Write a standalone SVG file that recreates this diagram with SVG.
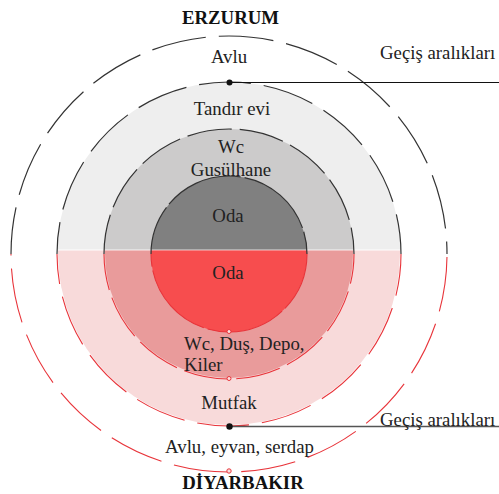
<svg xmlns="http://www.w3.org/2000/svg" width="499" height="494" viewBox="0 0 499 494">
<defs>
<clipPath id="ct"><rect x="0" y="0" width="499" height="249.5"/></clipPath>
<clipPath id="cb"><rect x="0" y="250.5" width="499" height="244"/></clipPath>
<style>
.t{font-family:"Liberation Serif","Times New Roman",serif;font-size:18.8px;fill:#222}
.b{font-weight:bold;fill:#111}
.m{text-anchor:middle}
.sg{fill:none;stroke:#333;stroke-width:1.2}
.sr{fill:none;stroke:#e8343a;stroke-width:1.1}
</style>
</defs>
<rect width="499" height="494" fill="#fff"/>
<g id="fills-top" clip-path="url(#ct)">
<circle cx="229" cy="254" r="172" fill="#eeeeee"/>
<circle cx="229" cy="254" r="125" fill="#cccbcb"/>
<circle cx="229" cy="254" r="78" fill="#808080"/>
</g>
<g id="fills-bottom" clip-path="url(#cb)">
<circle cx="229" cy="254" r="171" fill="#f8dada"/>
<circle cx="229" cy="254" r="124" fill="#e99b9b"/>
<circle cx="229" cy="254" r="78" fill="#f74d4e"/>
</g>
<g id="connectors">
<path class="sg" d="M11,254 A218,218 0 0 1 447,254" stroke-dasharray="55 13" stroke-dashoffset="8"/>
<path class="sg" d="M57,254 A172,172 0 0 1 401,254" stroke-dasharray="52 13" stroke-dashoffset="20"/>
<path class="sg" d="M104,254 A125,125 0 0 1 354,254" stroke-dasharray="45 8" stroke-dashoffset="5"/>
<path class="sg" d="M151,254 A78,78 0 0 1 307,254" stroke-dasharray="80 4" stroke-dashoffset="30"/>
<path class="sr" d="M447,254 A218,218 0 0 1 11,254" stroke-dasharray="55 13" stroke-dashoffset="-3"/>
<path class="sr" d="M401,254 A172,172 0 0 1 57,254" stroke-dasharray="52 13" stroke-dashoffset="10"/>
<path class="sr" d="M354,254 A125,125 0 0 1 104,254" stroke-dasharray="45 8" stroke-dashoffset="15"/>
<path class="sr" d="M307,254 A78,78 0 0 1 151,254" stroke-dasharray="80 4" stroke-dashoffset="20"/>
<line x1="229" y1="82.5" x2="499" y2="82.5" stroke="#111" stroke-width="1.2"/>
<line x1="229" y1="426.5" x2="499" y2="426.5" stroke="#555" stroke-width="1.5"/>
<circle cx="229.5" cy="82.5" r="3" fill="#111"/>
<circle cx="229.5" cy="426.5" r="3.2" fill="#111"/>
<circle cx="229" cy="331.5" r="2" fill="#fbe0e0" stroke="#e8343a" stroke-width="1"/>
<circle cx="229" cy="378.5" r="2" fill="#fbe0e0" stroke="#e8343a" stroke-width="1"/>
<circle cx="229" cy="471" r="2.2" fill="#fbe0e0" stroke="#e8343a" stroke-width="1"/>
</g>
<g id="labels">
<text class="t b m" x="230.5" y="24">ERZURUM</text>
<text class="t m" x="229" y="62.5">Avlu</text>
<text class="t" x="380" y="58.5">Geçiş aralıkları</text>
<text class="t m" x="232" y="115">Tandır evi</text>
<text class="t m" x="231" y="153">Wc</text>
<text class="t m" x="231" y="175.5">Gusülhane</text>
<text class="t m" x="228" y="222">Oda</text>
<text class="t m" x="228" y="279">Oda</text>
<text class="t" x="184" y="349.5">Wc, Duş, Depo,</text>
<text class="t" x="184" y="371">Kiler</text>
<text class="t m" x="229" y="409">Mutfak</text>
<text class="t" x="380" y="426">Geçiş aralıkları</text>
<text class="t m" x="239.5" y="452.5">Avlu, eyvan, serdap</text>
<text class="t b m" x="243" y="488.5">DİYARBAKIR</text>
</g>
</svg>
